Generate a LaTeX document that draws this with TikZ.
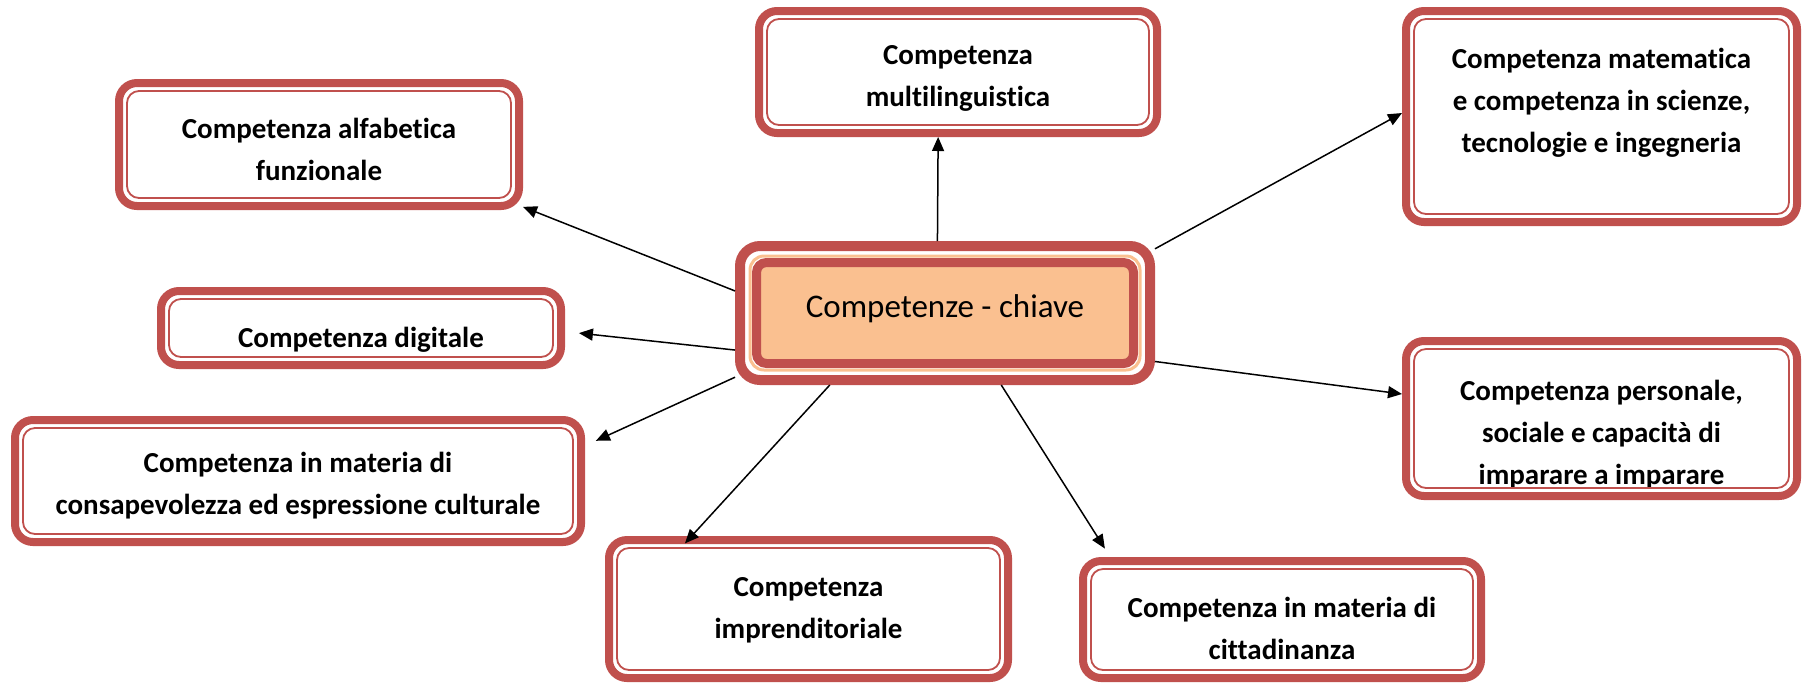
\documentclass[tikz,border=0pt]{standalone}
\usepackage{fontspec}
\setmainfont{Carlito}[Ligatures=NoCommon]
\usepackage{xcolor}
\usepackage{tikz}
\usetikzlibrary{arrows.meta,fit,positioning}

\definecolor{boxred}{HTML}{C0504D}
\definecolor{keyorange}{HTML}{FAC090}

\tikzset{
  comp/.style={draw=boxred, line width=4pt, rounded corners=9pt, fill=white, align=center,
    font=\fontsize{14.5pt}{21pt}\selectfont\bfseries, inner ysep=1pt, text depth=4pt},
  inner line/.style={draw=boxred, line width=0.9pt, rounded corners=6pt},
  arr/.style={-{Triangle[length=7pt,width=6pt]}, line width=0.75pt},
}

\begin{document}
\begin{tikzpicture}[x=0.5pt, y=-0.5pt]
\useasboundingbox (0,0) rectangle (1802,682);

% central key box
\node[draw=boxred, line width=4.5pt, fill=keyorange, rounded corners=5pt, minimum width=188.5pt, minimum height=50.5pt,
  text height=14.5pt, text depth=10pt, font=\fontsize{16.5pt}{20pt}\selectfont] (ck) at (945,313) {Competenze - chiave\hspace{15pt}};
\node[fit=(ck), inner sep=1pt, draw=keyorange, line width=1.5pt, rounded corners=7pt] (ckband) {};
\node[fit=(ck), inner sep=6pt, draw=boxred, line width=5pt, rounded corners=10pt] (ckring) {};

% competence boxes
\node[comp, minimum width=200pt, minimum height=61.5pt, text height=39.5pt] (alf) at (319,144.5) {Competenza alfabetica\\funzionale};
\node[comp, minimum width=199pt, minimum height=61pt, text height=38pt] (mul) at (958,72) {Competenza\\multilinguistica};
\node[comp, minimum width=195.5pt, minimum height=105.5pt, text height=39.5pt] (mat) at (1601.5,116.5) {Competenza matematica\\e competenza in scienze,\\tecnologie e ingegneria};
\node[comp, minimum width=200pt, minimum height=37pt, text height=20pt, text depth=1pt] (dig) at (361,328) {Competenza digitale};
\node[comp, minimum width=283pt, minimum height=61pt, text height=37pt] (cul) at (298,481) {Competenza in materia di\\consapevolezza ed espressione culturale};
\node[comp, minimum width=199.5pt, minimum height=69pt, text height=33pt] (imp) at (808.5,609) {Competenza\\imprenditoriale};
\node[comp, minimum width=199pt, minimum height=58.5pt, text height=43.5pt] (cit) at (1282,619.5) {Competenza in materia di\\cittadinanza};
\node[comp, minimum width=195.5pt, minimum height=77.5pt, text height=69.5pt] (per) at (1601.5,418.5) {Competenza personale,\\sociale e capacità di\\imparare a imparare};

% thin inner borders
\foreach \n in {alf,mul,mat,dig,cul,imp,cit,per}
  \draw[inner line] ([shift={(6pt,-6pt)}]\n.north west) rectangle ([shift={(-6pt,6pt)}]\n.south east);

% arrows
\draw[arr] (ckring.96) -- (mul.-107);
\draw[arr] (ckring.17) -- (mat.179);
\draw[arr] (ckring.-13) -- (per.173);
\draw[arr, shorten >=5pt] (ckring.-52) -- (cit.160);
\draw[arr, shorten >=-5pt] (ckring.212) -- (imp.148);
\draw[arr, shorten >=6pt] (ckring.197) -- (cul.7);
\draw[arr, shorten >=7pt] (ckring.190) -- (dig.-1);
\draw[arr] (ckring.174) -- (alf.-17);
\end{tikzpicture}
\end{document}
